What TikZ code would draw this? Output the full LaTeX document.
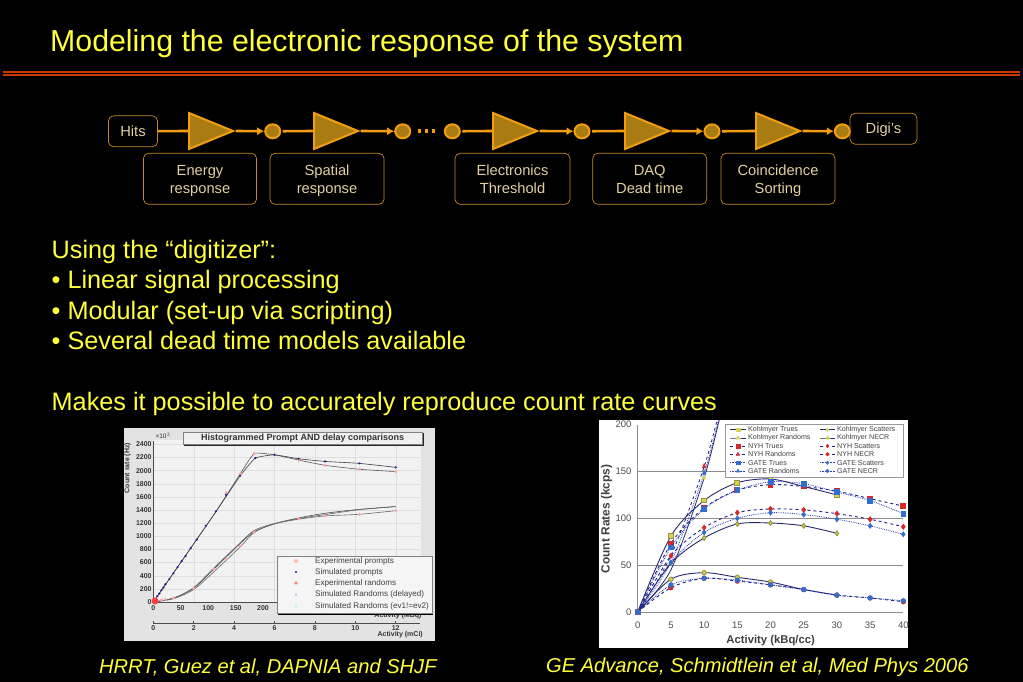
\documentclass[tikz,border=0pt]{standalone}
\usepackage{fontspec}
\setmainfont{Liberation Sans}
\usepackage{xcolor}
\usetikzlibrary{arrows.meta,positioning,shapes.geometric,plotmarks}
\definecolor{slideyellow}{RGB}{255,255,60}
\definecolor{ampfill}{RGB}{168,124,18}
\definecolor{ampedge}{RGB}{240,158,16}
\definecolor{boxedge}{RGB}{196,136,40}
\definecolor{boxtext}{RGB}{226,208,160}
\definecolor{kohlblue}{RGB}{40,40,110}
\definecolor{nyhblue}{RGB}{30,30,140}
\definecolor{gateblue}{RGB}{40,60,170}
\definecolor{nyhred}{RGB}{215,40,40}
\definecolor{gatemark}{RGB}{50,110,210}
\definecolor{kohlmark}{RGB}{215,210,80}
\begin{document}
\begin{tikzpicture}[
    x=1pt,y=-1pt,
    amp/.style={isosceles triangle,isosceles triangle stretches,draw=ampedge,fill=ampfill,line width=2pt,
      minimum width=36pt,minimum height=44pt,inner sep=0pt},
    tap/.style={ellipse,draw=ampedge,fill=ampfill,line width=2pt,minimum width=15pt,minimum height=14pt,inner sep=0pt},
    endbox/.style={rectangle,rounded corners=5pt,draw=boxedge,line width=0.7pt,text=boxtext,
      minimum height=31pt,align=center,inner sep=0pt,font=\fontsize{14.7}{18}\selectfont,text height=10.5pt,text depth=0pt},
    stagebox/.style={endbox,minimum height=51pt,text height=32pt,text depth=2pt},
    wire/.style={ampedge,line width=2.6pt},
    arrow/.style={wire,-{Latex[length=7pt,width=8pt]}},
    slidetext/.style={text=slideyellow,anchor=base west,inner sep=0pt,font=\fontsize{25.25}{30}\selectfont},
    caption/.style={text=slideyellow,anchor=base west,inner sep=0pt,font=\fontsize{20.1}{24}\selectfont\itshape},
    tick/.style={font=\fontsize{7}{8}\selectfont\bfseries,inner sep=0pt,text=black!80},
    legendtext/.style={anchor=west,inner sep=0pt,font=\fontsize{8.1}{9}\selectfont,text=black!75},
    ratekeytext/.style={legendtext,font=\fontsize{7.1}{9}\selectfont}
  ]
    \useasboundingbox (0,0) rectangle (1023,682);
    \fill[black] (0,0) rectangle (1023,682);

    % title and rule
    \node[slidetext,font=\fontsize{30.3}{34}\selectfont] (title) at (50,51.5) {Modeling the electronic response of the system};
    \draw[red!45!orange!80!black,line width=1.4pt] (3,72) -- (1020,72);
    \draw[red!45!orange!80!black,line width=1.4pt] (3,75) -- (1020,75);

    % digitizer chain
    \node[endbox,minimum width=49pt] (hits) at (133,131.3) {Hits};
    \node[amp,anchor=west] (amp1) at (188,131) {};
    \node[tap] (tap1) at (272.7,131.3) {};
    \node[amp,anchor=west] (amp2) at (313,131) {};
    \node[tap] (tap2) at (402.7,131.3) {};
    \node[tap] (tap3) at (452.3,131.3) {};
    \node[amp,anchor=west] (amp3) at (492,131) {};
    \node[tap] (tap4) at (582,131.3) {};
    \node[amp,anchor=west] (amp4) at (624,131) {};
    \node[tap] (tap5) at (712,131.3) {};
    \node[amp,anchor=west] (amp5) at (755,131) {};
    \node[tap] (tap6) at (842.3,131.3) {};
    \node[endbox,minimum width=67pt] (digis) at (883.5,128.7) {Digi's};

    \node[stagebox,minimum width=113pt] (energy) at (200,178.8) {Energy\\response};
    \node[stagebox,minimum width=114pt] (spatial) at (327,178.8) {Spatial\\response};
    \node[stagebox,minimum width=115pt] (thresh) at (512.5,178.8) {Electronics\\Threshold};
    \node[stagebox,minimum width=114pt] (daq) at (649.7,178.8) {DAQ\\Dead time};
    \node[stagebox,minimum width=114pt] (sorting) at (778,178.8) {Coincidence\\Sorting};

    \draw[wire] (hits) -- (amp1.west);
    \draw[arrow] (amp1.east) -- (tap1);
    \draw[wire,shorten <=1.5pt] (tap1) -- (amp2.west);
    \draw[arrow] (amp2.east) -- (tap2);
    \draw[wire,shorten <=1.5pt] (tap3) -- (amp3.west);
    \draw[arrow] (amp3.east) -- (tap4);
    \draw[wire,shorten <=1.5pt] (tap4) -- (amp4.west);
    \draw[arrow] (amp4.east) -- (tap5);
    \draw[wire,shorten <=1.5pt] (tap5) -- (amp5.west);
    \draw[arrow] (amp5.east) -- (tap6);
    \foreach \dotx in {417.5,424.5,431.5}
      \fill[ampedge] (\dotx,129.5) rectangle ++(3.5,3.5);

    % slide text
    \node[slidetext] (using) at (51.5,258) {Using the “digitizer”:};
    \node[slidetext] (linear) at (51.5,288) {• Linear signal processing};
    \node[slidetext] (modular) at (51.5,319) {• Modular (set-up via scripting)};
    \node[slidetext] (models) at (51.5,349) {• Several dead time models available};
    \node[slidetext] (makes) at (51.5,410) {Makes it possible to accurately reproduce count rate curves};
    \node[caption] (hrrt) at (99,673) {HRRT, Guez et al, DAPNIA and SHJF};
    \node[caption] (advance) at (546,672) {GE Advance, Schmidtlein et al, Med Phys 2006};

    % left chart
    \fill[black!11] (124,428) rectangle (435,641);
    \fill[black!5] (153.3,440) rectangle (421,602);
    \begin{scope}[shift={(153.3,602)},x=20.2pt,y=65.7pt]
      \foreach \yy in {0.2,0.4,...,2.41} \draw[black!13,line width=0.3pt] (0,\yy) -- (13.2,\yy);
      \foreach \xx in {2,4,...,12} \draw[black!13,line width=0.3pt] (\xx,0) -- (\xx,2.45);
      \draw[black!70,line width=0.5pt] (0,0) -- (0,2.45);
      \draw[black!70,line width=0.5pt] (0,0) -- (13.2,0);
      \foreach \yy in {0,200,...,2400}
        \node[tick,anchor=east] (ytick\yy) at ([xshift=-1.5pt]0,\yy/1000) {\yy};
      \draw[black!70,line width=0.5pt] (0,-0.32) -- (13.2,-0.32);
      \foreach \xx in {0,2,...,12} {
        \draw[black!70,line width=0.5pt] (\xx,-0.32) -- (\xx,-0.29);
        \node[tick] (xtick\xx) at (\xx,-0.39) {\xx};
      }
      % prompts and randoms
      \draw[black!65,line width=0.6pt] plot[smooth,tension=0.25] coordinates {(0,0) (3,1.33) (4.3,1.95) (5,2.26) (6,2.24) (7.2,2.16) (8.5,2.08) (10.2,2.02) (12,1.985)};
      \draw[black!75,line width=0.6pt] plot[smooth,tension=0.25] coordinates {(0,0) (3,1.33) (4.3,1.92) (5.05,2.19) (6,2.24) (7.2,2.18) (8.5,2.14) (10.2,2.11) (12,2.05)};
      \draw[black!70,line width=0.6pt] plot[smooth] coordinates {(0,0) (1,.06) (2,.21) (3,.5) (4.3,.89) (5,1.07) (6,1.19) (7.2,1.28) (8.5,1.35) (10.2,1.41) (12,1.45)};
      \draw[black!60,line width=0.6pt] plot[smooth] coordinates {(0,0) (1,.05) (2,.19) (3,.46) (4.3,.84) (5,1.06) (6,1.19) (7.2,1.26) (8.5,1.31) (10.2,1.335) (12,1.39)};
      \draw[black!60,line width=0.6pt] plot[smooth] coordinates {(0,0) (1,.06) (2,.22) (3,.52) (4.3,.9) (5,1.09) (6,1.195) (7.2,1.27) (8.5,1.33) (10.2,1.405) (12,1.455)};
      \foreach \xx/\yy in {3.6/1.66,4.3/1.95,5/2.26,7.2/2.16,8.5/2.08,10.2/2.02,12/1.985,.1/.01,.2/.02,.4/.03,.6/.04,1/.06,2/.21,3/.5,3.6/.65,4.3/.85,5/1.06,7.2/1.27,8.5/1.31,10.2/1.335,12/1.39}
        \fill[red!35] (\xx,\yy) circle (1.7pt);
      \foreach \xx/\yy in {.1/.04,.2/.09,.3/.13,.4/.18,.5/.22,.6/.27,.8/.35,1/.44,1.2/.53,1.4/.62,1.6/.70,1.85/.82,2.15/.95,2.6/1.16,3.1/1.38,3.6/1.63,4.3/1.92,5.05/2.19,6/2.24,7.2/2.18,8.5/2.14,10.2/2.11,12/2.05}
        \fill[nyhblue] (\xx,\yy) circle (1.2pt);
    \end{scope}
    \fill[red!75] (155,601) circle (3.5pt);
    \node[tick,rotate=90] (ratelabel) at (127.5,468) {Count rate (Hz)};
    \node[tick,font=\fontsize{6.5}{8}\selectfont] (tenpow) at (163,436) {×10$^3$};
    \foreach \xx/\lab in {153.3/0,180.7/50,208.3/100,235.7/150,263/200}
      \node[tick] (mbq\lab) at (\xx,608) {\lab};
    \node[tick,anchor=east] (mbqlabel) at (421.7,615.7) {Activity (MBq)};
    \node[tick,anchor=east] (mcilabel) at (423,635) {Activity (mCi)};
    \fill[black!85] (184.3,433) rectangle (424,445.5);
    \node[draw=black!50,fill=black!6,line width=0.4pt,minimum width=239pt,minimum height=12pt,inner sep=0pt,
      font=\fontsize{9}{10}\selectfont\bfseries,text=black!80] (charttitle) at (302.7,438) {Histogrammed Prompt AND delay comparisons};
    \fill[black] (278,557) rectangle (433,614.5);
    \node[draw=black!50,fill=black!4,line width=0.4pt,minimum width=155pt,minimum height=57.5pt,inner sep=0pt] (promptkey) at (354.2,584.5) {};
    \foreach \rowy/\keycol/\keydot/\lab in {561/red!25/2.2/Experimental prompts,572/nyhblue/1.1/Simulated prompts,583/red!45/1.8/Experimental randoms,594.7/blue!45/0.9/Simulated Randoms (delayed),606/green!35/1.2/Simulated Randoms (ev1!=ev2)} {
      \fill[\keycol] (296,\rowy) circle (\keydot pt);
      \node[legendtext] at (315,\rowy) {\lab};
    }

    % right chart
    \fill[white] (599,420) rectangle (908,648);
    \begin{scope}
      \clip (599,420) rectangle (908,648);
      \begin{scope}[shift={(637.7,612)},x=6.64pt,y=0.9367pt]
        \foreach \yy in {50,100,150} \draw[black!45,line width=0.6pt] (0,\yy) -- (40,\yy);
        \draw[black!45,line width=0.6pt] (0,0) -- (0,200);
        \draw[black!45,line width=0.6pt] (0,0) -- (40,0);
        \foreach \yy in {0,50,...,200}
          \node[tick,anchor=east,font=\fontsize{9.5}{12}\selectfont,text=black!70] (rate\yy) at ([xshift=-6pt]0,\yy) {\yy};
        \foreach \xx in {0,5,...,40}
          \node[tick,font=\fontsize{9.5}{12}\selectfont,text=black!70] (act\xx) at ([yshift=-13pt]\xx,0) {\xx};
        % randoms
        \draw[nyhblue,line width=0.8pt,dashed] plot[smooth] coordinates {(0,0) (5,60) (10,155) (12.3,215)};
        \draw[gateblue,line width=0.8pt,densely dotted] plot[smooth] coordinates {(0,0) (5,53) (10,148) (12.5,215)};
        \draw[kohlblue,line width=0.8pt] plot[smooth] coordinates {(0,0) (5,45) (10,143) (12.6,215)};
        % trues
        \draw[kohlblue,line width=0.9pt] plot[smooth,mark=square*,mark size=2.4pt,mark options={fill=kohlmark,draw=kohlmark!70!black,solid}] coordinates {(0,0) (5,81) (10,119) (15,138) (20,142) (25,134) (30,125)};
        \draw[nyhblue,line width=0.9pt,dashed] plot[smooth,mark=square*,mark size=2.4pt,mark options={fill=nyhred,draw=nyhred,solid}] coordinates {(0,0) (5,73) (10,111) (15,130) (20,136) (25,134) (30,129) (35,121) (40,113)};
        \draw[gateblue,line width=0.8pt,densely dotted] plot[smooth,mark=square*,mark size=2.4pt,mark options={fill=gatemark,draw=gatemark,solid}] coordinates {(0,0) (5,69) (10,110) (15,130) (20,139) (25,137) (30,128) (35,119) (40,105)};
        % scatters
        \draw[kohlblue,line width=0.9pt] plot[smooth,mark=diamond*,mark size=2.4pt,mark options={fill=kohlmark,draw=kohlmark!70!black,solid}] coordinates {(0,0) (5,52) (10,79) (15,94) (20,95) (25,92) (30,84)};
        \draw[nyhblue,line width=0.9pt,dashed] plot[smooth,mark=diamond*,mark size=2.4pt,mark options={fill=nyhred,draw=nyhred,solid}] coordinates {(0,0) (5,60) (10,90) (15,106) (20,110) (25,109) (30,105) (35,99) (40,91)};
        \draw[gateblue,line width=0.8pt,densely dotted] plot[smooth,mark=diamond*,mark size=2.4pt,mark options={fill=gatemark,draw=gatemark,solid}] coordinates {(0,0) (5,53) (10,85) (15,100) (20,106) (25,104) (30,99) (35,92) (40,83)};
        % necr
        \draw[kohlblue,line width=0.9pt] plot[smooth,mark=*,mark size=2.2pt,mark options={fill=kohlmark,draw=kohlmark!70!black,solid}] coordinates {(0,0) (5,35) (10,42) (15,37) (20,32) (25,24) (30,18)};
        \draw[nyhblue,line width=0.9pt,dashed] plot[smooth,mark=*,mark size=2.2pt,mark options={fill=nyhred,draw=nyhred,solid}] coordinates {(0,0) (5,26) (10,36) (15,33) (20,29) (25,24) (30,18) (35,15) (40,11)};
        \draw[gateblue,line width=0.8pt,densely dotted] plot[smooth,mark=*,mark size=2.2pt,mark options={fill=gatemark,draw=gatemark,solid}] coordinates {(0,0) (5,29) (10,36) (15,34) (20,29) (25,24) (30,18) (35,15) (40,12)};
        % randoms markers at 10
        \node[fill=kohlmark,isosceles triangle,shape border rotate=90,inner sep=1.2pt] (kohlrand) at (10,143) {};
        \node[fill=nyhred,isosceles triangle,shape border rotate=90,inner sep=1.2pt] (nyhrand) at (10,155) {};
        \node[fill=gatemark,isosceles triangle,shape border rotate=90,inner sep=1.2pt] (gaterand) at (10,148) {};
      \end{scope}
    \end{scope}
    \node[tick,rotate=90,font=\fontsize{11.9}{13}\selectfont\bfseries,text=black!75] (rateaxis) at (606.5,519) {Count Rates (kcps)};
    \node[tick,font=\fontsize{11.3}{13}\selectfont\bfseries,text=black!75] (actaxis) at (770.7,640.7) {Activity (kBq/cc)};
    \node[draw=black!40,fill=white,line width=0.7pt,minimum width=178pt,minimum height=53pt,inner sep=0pt] (ratekey) at (814.5,450.5) {};
    \foreach \rowy/\linecol/\linedash/\keymark/\keycol/\lab in {
        429.7/kohlblue/solid/square*/kohlmark/Kohlmyer Trues,
        438/kohlblue/solid/triangle*/kohlmark/Kohlmyer Randoms,
        446/nyhblue/dashed/square*/nyhred/NYH Trues,
        454.3/nyhblue/dashed/triangle*/nyhred/NYH Randoms,
        462.7/gateblue/densely dotted/square*/gatemark/GATE Trues,
        471/gateblue/densely dotted/triangle*/gatemark/GATE Randoms} {
      \draw[\linecol,\linedash,line width=0.6pt] plot[mark=\keymark,mark indices={2},mark size=1.9pt,mark options={solid,fill=\keycol,draw=\keycol}] coordinates {(730,\rowy) (738,\rowy) (746,\rowy)};
      \node[ratekeytext] at (748,\rowy) {\lab};
    }
    \foreach \rowy/\linecol/\linedash/\keymark/\keycol/\lab in {
        429.7/kohlblue/solid/diamond*/kohlmark/Kohlmyer Scatters,
        438/kohlblue/solid/*/kohlmark/Kohlmyer NECR,
        446/nyhblue/dashed/diamond*/nyhred/NYH Scatters,
        454.3/nyhblue/dashed/*/nyhred/NYH NECR,
        462.7/gateblue/densely dotted/diamond*/gatemark/GATE Scatters,
        471/gateblue/densely dotted/*/gatemark/GATE NECR} {
      \draw[\linecol,\linedash,line width=0.6pt] plot[mark=\keymark,mark indices={2},mark size=1.7pt,mark options={solid,fill=\keycol,draw=\keycol}] coordinates {(820,\rowy) (827.5,\rowy) (835,\rowy)};
      \node[ratekeytext] at (837,\rowy) {\lab};
    }
\end{tikzpicture}
\end{document}
